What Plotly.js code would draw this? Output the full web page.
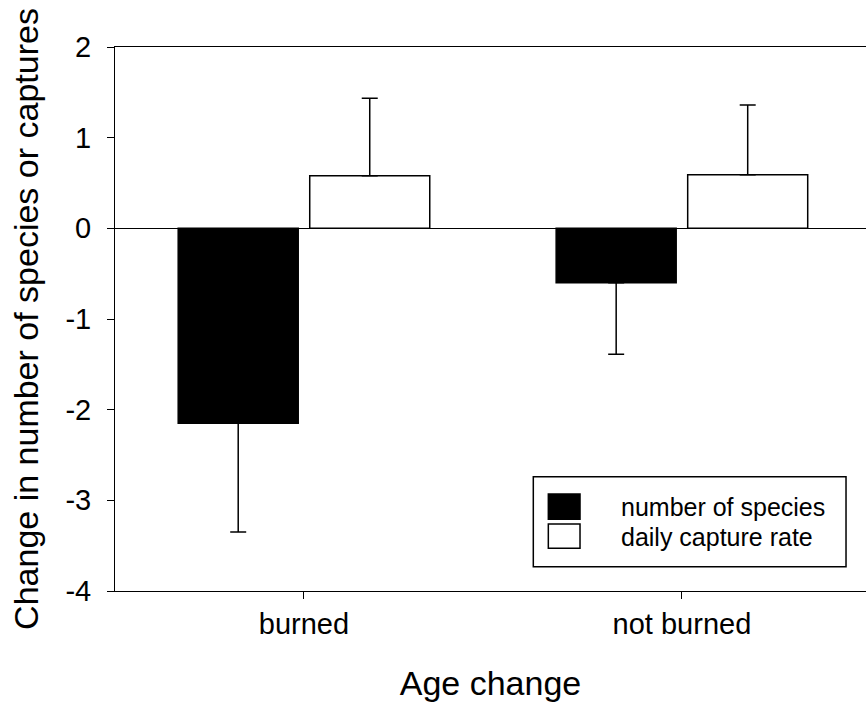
<!DOCTYPE html>
<html>
<head>
<meta charset="utf-8">
<script src="https://cdn.plot.ly/plotly-3.0.1.min.js"></script>
<style>html,body{margin:0;padding:0;background:#fff;overflow:hidden;}</style>
</head>
<body>
<div id="chart" style="width:866px;height:705px;"></div>
<script>
// ---- data ----
var categories = ["burned", "not burned"];
var seriesNames = ["number of species", "daily capture rate"];
var speciesValues = [-2.15, -0.60];
var speciesErrMinus = [1.20, 0.79];
var captureValues = [0.58, 0.59];
var captureErrPlus = [0.855, 0.77];
var yTickVals = [-4, -3, -2, -1, 0, 1, 2];
var yTickLabels = ["-4", "-3", "-2", "-1", "0", "1", "2"];
var xTitle = "Age change";
var yTitle = "Change in number of species or captures";

var FONT = "Liberation Sans, Arial, sans-serif";

var traces = [
  {
    type: "bar", x: categories, y: speciesValues, name: seriesNames[0],
    marker: {color: "#000000", line: {color: "#000000", width: 1.5}},
    error_y: {type: "data", symmetric: false, array: [0, 0], arrayminus: speciesErrMinus,
              color: "#000000", thickness: 1.5, width: 8}
  },
  {
    type: "bar", x: categories, y: captureValues, name: seriesNames[1],
    marker: {color: "#ffffff", line: {color: "#000000", width: 1.5}},
    error_y: {type: "data", symmetric: false, array: captureErrPlus, arrayminus: [0, 0],
              color: "#000000", thickness: 1.5, width: 8}
  }
];

var layout = {
  width: 866, height: 705,
  margin: {l: 115, r: 0, t: 47, b: 114, pad: 0},
  paper_bgcolor: "#ffffff", plot_bgcolor: "#ffffff",
  showlegend: false,
  barmode: "group", bargap: 0.304, bargroupgap: 0.0875,
  font: {family: FONT, color: "#000000"},
  xaxis: {
    type: "category", range: [-0.5, 1.487],
    showline: true, linecolor: "#000000", linewidth: 1, mirror: true,
    ticks: "outside", ticklen: 7, tickwidth: 1, tickcolor: "#000000",
    showgrid: false, zeroline: false,
    tickfont: {family: FONT, size: 29, color: "#000000"},
    title: {text: xTitle, font: {family: FONT, size: 34, color: "#000000"}, standoff: 32}
  },
  yaxis: {
    range: [-4, 2], tickmode: "array", tickvals: yTickVals, ticktext: yTickLabels,
    showline: true, linecolor: "#000000", linewidth: 1,
    ticks: "outside", ticklen: 7, tickwidth: 1, tickcolor: "#000000",
    showgrid: false, zeroline: true, zerolinecolor: "#000000", zerolinewidth: 1,
    tickfont: {family: FONT, size: 29, color: "#000000"},
    ticklabelstandoff: 10,
    title: {text: yTitle, font: {family: FONT, size: 34, color: "#000000"}, standoff: 16}
  },
  shapes: [
    {type: "rect", xref: "paper", yref: "paper", x0: 0.557, x1: 0.9734, y0: 0.0447, y1: 0.2101,
     line: {color: "#000000", width: 1.5}, fillcolor: "#ffffff", layer: "above"},
    {type: "rect", xref: "paper", yref: "paper", x0: 0.577, x1: 0.6192, y0: 0.1318, y1: 0.1783,
     line: {color: "#000000", width: 1.5}, fillcolor: "#000000", layer: "above"},
    {type: "rect", xref: "paper", yref: "paper", x0: 0.577, x1: 0.6192, y0: 0.0785, y1: 0.1232,
     line: {color: "#000000", width: 1.5}, fillcolor: "#ffffff", layer: "above"}
  ],
  annotations: [
    {xref: "paper", yref: "paper", x: 0.6707, y: 0.1544, xanchor: "left", yanchor: "middle",
     text: seriesNames[0], showarrow: false, font: {family: FONT, size: 25, color: "#000000"}},
    {xref: "paper", yref: "paper", x: 0.6707, y: 0.0998, xanchor: "left", yanchor: "middle",
     text: seriesNames[1], showarrow: false, font: {family: FONT, size: 25, color: "#000000"}}
  ]
};

Plotly.newPlot("chart", traces, layout, {staticPlot: true, displayModeBar: false});
</script>
</body>
</html>
